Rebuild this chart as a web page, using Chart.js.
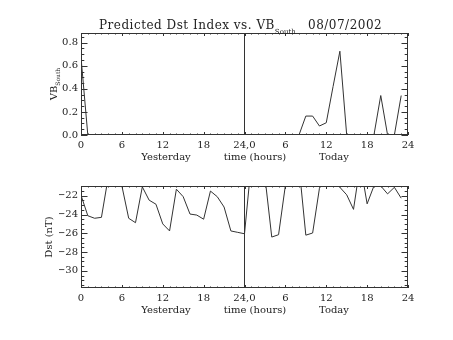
<!DOCTYPE html>
<html>
<head>
<meta charset="utf-8">
<script src="https://cdn.jsdelivr.net/npm/chart.js@4/dist/chart.umd.min.js"></script>
<style>
  body { margin: 0; background: #fff; }
  canvas { position: absolute; left: 0; }
</style>
</head>
<body>
<canvas id="vb-chart" width="453" height="170" style="top:0"></canvas>
<canvas id="dst-chart" width="453" height="170" style="top:170px"></canvas>
<script>
//Hours since start of yesterday (0-23 yesterday, 24-47 today)
const hours = [0, 1, 2, 3, 4, 5, 6, 7, 8, 9, 10, 11, 12, 13, 14, 15, 16, 17, 18, 19, 20, 21, 22, 23,
  24, 25, 26, 27, 28, 29, 30, 31, 32, 33, 34, 35, 36, 37, 38, 39, 40, 41, 42, 43, 44, 45, 46, 47];

//VB south values
const vbSouth = [0.674, 0, 0, 0, 0, 0, 0, 0, 0, 0, 0, 0, 0, 0, 0, 0, 0, 0, 0, 0, 0, 0, 0, 0,
  0, 0, 0, 0, 0, 0, 0, 0, 0, 0.164, 0.164, 0.078, 0.106, 0.42, 0.726, 0, 0, 0, 0, 0, 0.342, 0, 0, 0.342];

//Predicted Dst values (nT)
const dst = [-21.94, -24.13, -24.4, -24.3, -20.0, -20.3, -20.95, -24.4, -24.87, -21.05, -22.47, -22.9,
  -25.0, -25.75, -21.3, -22.1, -23.95, -24.06, -24.5, -21.5, -22.1, -23.2, -25.75, -25.9,
  -26.05, -18.5, -19.5, -20.0, -26.4, -26.15, -20.9, -20.0, -18.8, -26.2, -25.97, -21.2,
  -20.0, -20.5, -21.1, -21.9, -23.45, -18.6, -22.86, -20.95, -20.95, -21.8, -21.1, -22.26];

//Axis tick labels and texts
const xTickLabels = ["0", "6", "12", "18", "24,0", "6", "12", "18", "24"];
const dividerHour = 24;
const titleMain = "Predicted Dst Index vs. VB";
const titleSub = "South";
const titleDate = "08/07/2002";
const dayLabels = ["Yesterday", "time (hours)", "Today"];

const FONT = "'DejaVu Serif', 'Liberation Serif', serif";
const INK = "#333";

//Draws the IDL style box, inward ticks and the extra texts
const idlFrame = {
  id: "idlFrame",
  afterDraw(chart, args, o) {
    const { ctx, chartArea: a, scales: { x, y } } = chart;
    ctx.save();
    ctx.strokeStyle = INK;
    ctx.lineWidth = 1;
    ctx.strokeRect(a.left + 0.5, a.top + 0.5, a.width - 1, a.height - 1);

    //x ticks (bottom and top)
    ctx.beginPath();
    for (let h = 0; h <= 48; h++) {
      const px = Math.round(x.getPixelForValue(h)) + 0.5;
      const len = h % 6 === 0 ? 3 : 1.5;
      ctx.moveTo(px, a.bottom); ctx.lineTo(px, a.bottom - len);
      ctx.moveTo(px, a.top); ctx.lineTo(px, a.top + len);
    }
    //y ticks (left and right)
    const n = Math.round((o.yMax - o.yFirst) / o.yMinor);
    for (let i = 0; i <= n; i++) {
      const v = o.yFirst + i * o.yMinor;
      if (v < y.min - 1e-9 || v > y.max + 1e-9) continue;
      const py = Math.round(y.getPixelForValue(v)) + 0.5;
      const major = Math.abs(v / o.yStep - Math.round(v / o.yStep)) < 1e-6;
      const len = major ? 6.5 : 3.3;
      ctx.moveTo(a.left, py); ctx.lineTo(a.left + len, py);
      ctx.moveTo(a.right, py); ctx.lineTo(a.right - len, py);
    }
    ctx.stroke();

    ctx.fillStyle = "#222";
    //Day labels under the x axis
    ctx.font = "10px " + FONT;
    ctx.textAlign = "center";
    ctx.textBaseline = "middle";
    const dayX = [166, 255, 334];
    dayLabels.forEach((t, i) => ctx.fillText(t, dayX[i], a.bottom + 22));

    //Rotated y title with optional subscript
    ctx.save();
    ctx.translate(o.yTitleX, (a.top + a.bottom) / 2);
    ctx.rotate(-Math.PI / 2);
    ctx.textAlign = "left";
    ctx.textBaseline = "alphabetic";
    ctx.font = "10px " + FONT;
    const wMain = ctx.measureText(o.yTitle).width;
    ctx.font = "6px " + FONT;
    const wSub = o.ySub ? ctx.measureText(o.ySub).width : 0;
    const start = -(wMain + wSub) / 2;
    ctx.font = "10px " + FONT;
    ctx.fillText(o.yTitle, start, 0);
    if (o.ySub) {
      ctx.font = "6px " + FONT;
      ctx.fillText(o.ySub, start + wMain, 3);
    }
    ctx.restore();

    //Main title
    if (o.title) {
      ctx.textAlign = "left";
      ctx.textBaseline = "alphabetic";
      ctx.font = "12px " + FONT;
      ctx.letterSpacing = "0.5px";
      ctx.fillText(titleMain, 99, 29);
      const w = ctx.measureText(titleMain).width;
      ctx.font = "7px " + FONT;
      ctx.letterSpacing = "0px";
      ctx.fillText(titleSub, 99 + w, 34);
      ctx.font = "12px " + FONT;
      ctx.letterSpacing = "0.5px";
      ctx.fillText(titleDate, 308, 29);
    }
    ctx.restore();
  },
};

//Function to create one panel
function makePanel(elementID, values, o) {
  const series = hours.map((h, i) => ({ x: h, y: values[i] }));
  const data = {
    datasets: [
      {
        data: series,
        borderColor: INK,
        borderWidth: 1,
        pointRadius: 0,
        tension: 0,
      },
      {
        data: [{ x: dividerHour, y: o.yMin }, { x: dividerHour, y: o.yMax }],
        borderColor: INK,
        borderWidth: 1,
        pointRadius: 0,
      },
    ],
  };

  const config = {
    type: "line",
    data,
    options: {
      responsive: false,
      animation: false,
      events: [],
      layout: { padding: { left: 59, right: 45, top: o.padTop, bottom: o.padBottom } },
      plugins: {
        legend: { display: false },
        tooltip: { enabled: false },
        idlFrame: o,
      },
      scales: {
        x: {
          type: "linear",
          min: 0,
          max: 48,
          grid: { display: false, drawTicks: false },
          border: { display: false },
          afterFit: (s) => { s.height = 20; },
          ticks: {
            stepSize: 6,
            autoSkip: false,
            maxRotation: 0,
            padding: 4,
            color: "#222",
            font: { family: FONT, size: 10 },
            callback: (v, i) => xTickLabels[i],
          },
        },
        y: {
          min: o.yMin,
          max: o.yMax,
          grid: { display: false, drawTicks: false },
          border: { display: false },
          afterFit: (s) => { s.width = 22; },
          ticks: {
            stepSize: o.yStep,
            includeBounds: false,
            padding: 3,
            color: "#222",
            font: { family: FONT, size: 10 },
            callback: (v) => v.toFixed(o.decimals).replace("-", "\u2212"),
          },
        },
      },
    },
    plugins: [idlFrame],
  };

  return new Chart(document.getElementById(elementID).getContext("2d"), config);
}

makePanel("vb-chart", vbSouth, {
  yMin: 0, yMax: 0.884, yStep: 0.2, yMinor: 0.05, yFirst: 0, decimals: 1,
  yTitle: "VB", ySub: titleSub, yTitleX: 57, title: true, padTop: 33, padBottom: 15,
});
makePanel("dst-chart", dst, {
  yMin: -31.83, yMax: -20.96, yStep: 2, yMinor: 0.5, yFirst: -32, decimals: 0,
  yTitle: "Dst (nT)", ySub: "", yTitleX: 52, title: false, padTop: 16, padBottom: 32,
});
</script>
</body>
</html>
